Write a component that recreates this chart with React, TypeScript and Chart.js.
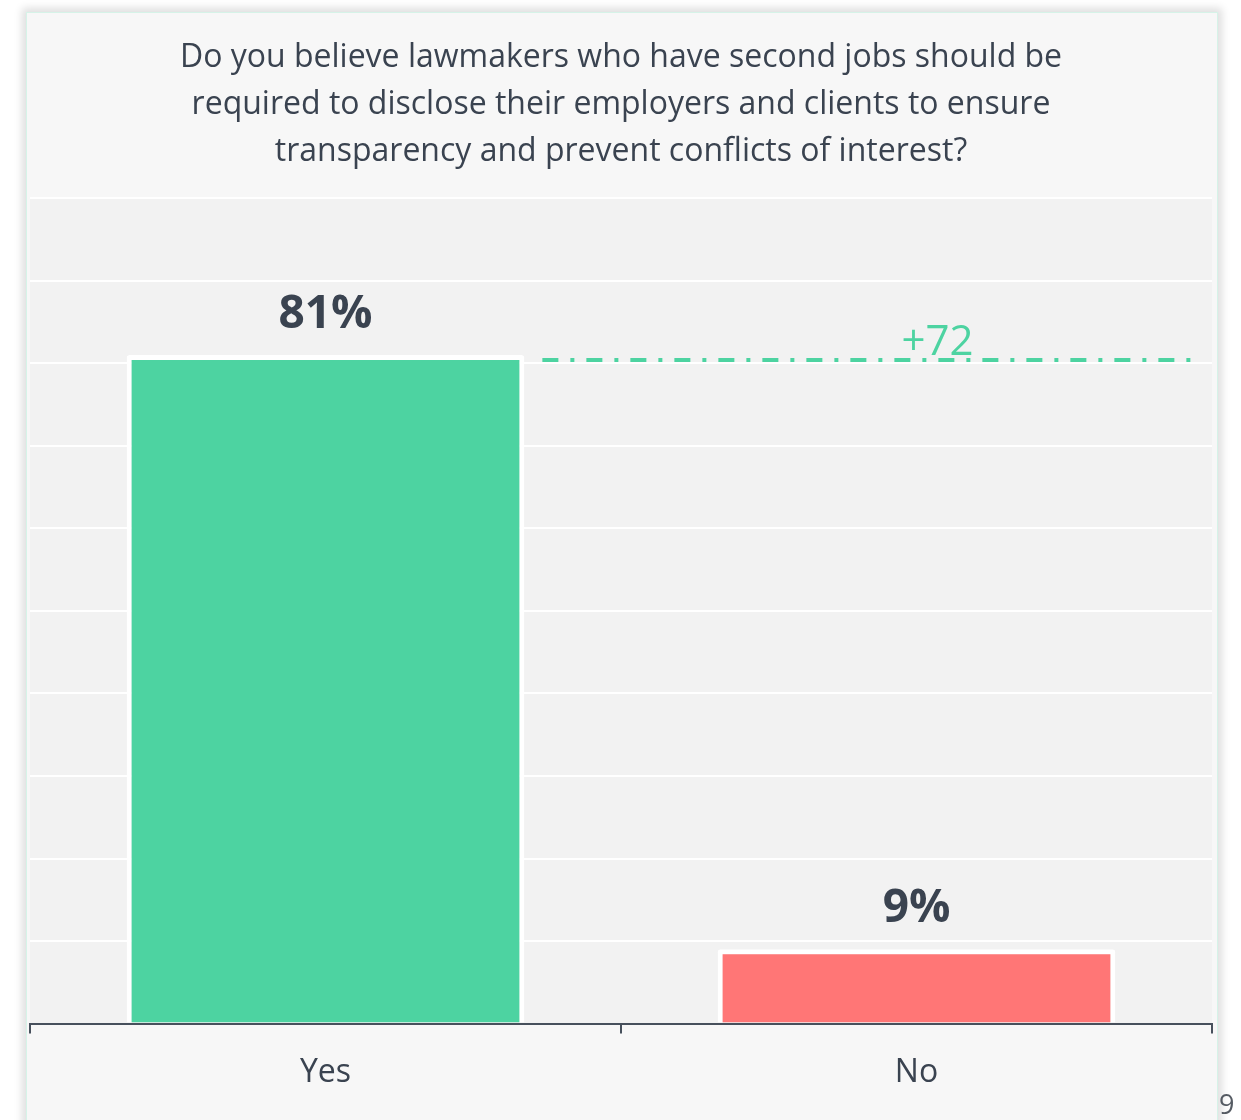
import React, { useEffect, useRef } from "react";
import { Chart, registerables } from "chart.js";

Chart.register(...registerables);

const titleLines = [
  "Do you believe lawmakers who have second jobs should be",
  "required to disclose their employers and clients to ensure",
  "transparency and prevent conflicts of interest?",
];
const categories = ["Yes", "No"];
const values = [81, 9];
const barColors = ["#4dd3a1", "#ff7676"];
const yMin = 0;
const yMax = 100;
const yStep = 10;
const diffLabel = "+72";
const pageNumber = "9";

const FONT = "'Open Sans', 'Noto Sans', sans-serif";
const TEXT = "#3a4350";

const decorPlugin = {
  id: "decor",
  beforeDraw(chart: any) {
    const { ctx, chartArea } = chart;
    ctx.save();
    ctx.fillStyle = "#f2f2f2";
    ctx.fillRect(chartArea.left, chartArea.top, chartArea.right - chartArea.left, chartArea.bottom - chartArea.top);
    ctx.restore();
  },
  afterDatasetsDraw(chart: any) {
    const { ctx, chartArea } = chart;
    const meta = chart.getDatasetMeta(0);
    const y = chart.scales.y;
    ctx.save();
    // value labels
    ctx.fillStyle = TEXT;
    ctx.font = `700 46px ${FONT}`;
    ctx.textAlign = "center";
    ctx.textBaseline = "middle";
    meta.data.forEach((bar: any, i: number) => {
      ctx.fillText(values[i] + "%", bar.x, bar.y - 40);
    });
    // difference line
    const b0 = meta.data[0];
    const b1 = meta.data[1];
    const lineY = y.getPixelForValue(values[0]) + 5;
    ctx.strokeStyle = barColors[0];
    ctx.lineWidth = 4;
    ctx.setLineDash([16, 12, 4, 12]);
    ctx.beginPath();
    ctx.moveTo(b0.x + b0.width / 2 + 18, lineY);
    ctx.lineTo(chartArea.right - 20, lineY);
    ctx.stroke();
    ctx.setLineDash([]);
    ctx.fillStyle = barColors[0];
    ctx.font = `400 42px ${FONT}`;
    ctx.textBaseline = "alphabetic";
    ctx.fillText(diffLabel, b1.x + 21, lineY - 5);
    ctx.restore();
  },
};

export default function App() {
  const ref = useRef<HTMLCanvasElement | null>(null);
  useEffect(() => {
    if (!ref.current) return;
    const chart = new Chart(ref.current, {
      type: "bar",
      data: {
        labels: categories,
        datasets: [
          {
            data: values,
            backgroundColor: barColors,
            borderColor: "#ffffff",
            borderWidth: 5,
            borderRadius: 3,
            borderSkipped: "start",
            barPercentage: 0.673,
            categoryPercentage: 1,
          },
        ],
      },
      options: {
        animation: false,
        responsive: false,
        maintainAspectRatio: false,
        layout: { padding: { left: 30, right: 29, top: 0, bottom: 8 } },
        plugins: {
          legend: { display: false },
          tooltip: { enabled: false },
          title: {
            display: true,
            text: titleLines,
            color: TEXT,
            font: { family: FONT, size: 32, weight: "400", lineHeight: 1.46 },
            padding: { top: 35, bottom: 23 },
          },
        },
        scales: {
          x: {
            grid: {
              display: true,
              drawOnChartArea: false,
              drawTicks: true,
              tickLength: 10,
              color: "#47505c",
              lineWidth: 2,
            },
            border: { display: true, color: "#47505c", width: 2 },
            ticks: {
              color: TEXT,
              font: { family: FONT, size: 32, lineHeight: 1.2 },
              padding: 20,
            },
          },
          y: {
            min: yMin,
            max: yMax,
            ticks: { display: false, stepSize: yStep },
            grid: { color: "#ffffff", lineWidth: 2, drawTicks: false },
            border: { display: false },
          },
        },
      },
      plugins: [decorPlugin],
    });
    return () => chart.destroy();
  }, []);

  return (
    <div style={{ position: "absolute", left: 0, top: 0, width: 1241, height: 1120, overflow: "hidden", background: "#ffffff" }}>
      <div
        style={{
          position: "absolute",
          left: 26,
          top: 12,
          width: 1190,
          height: 1130,
          background: "#f7f7f7",
          border: "1px solid #d6f3e8",
          boxShadow: "0 0 8px 4px rgba(0,0,0,0.13)",
        }}
      />
      <canvas ref={ref} width={1241} height={1120} style={{ position: "absolute", left: 0, top: 0, width: 1241, height: 1120 }} />
      <div
        style={{
          position: "absolute",
          left: 1219,
          top: 1088,
          fontFamily: FONT,
          fontSize: 27,
          color: "#555b63",
          lineHeight: "32px",
        }}
      >
        {pageNumber}
      </div>
    </div>
  );
}
